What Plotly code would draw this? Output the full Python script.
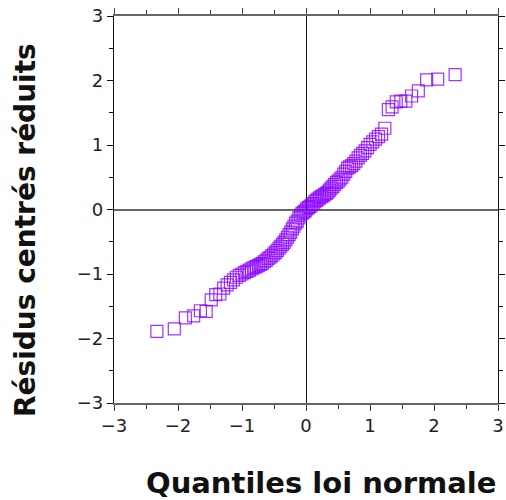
import plotly.graph_objects as go

# Theoretical normal quantiles (x) and standardized residuals (y)
quantiles = [
    -2.330, -2.058, -1.885, -1.755, -1.650, -1.560, -1.481, -1.410, -1.346, -1.287,
    -1.232, -1.181, -1.132, -1.087, -1.043, -1.001, -0.961, -0.922, -0.885, -0.849,
    -0.814, -0.780, -0.746, -0.714, -0.682, -0.651, -0.621, -0.591, -0.562, -0.533,
    -0.504, -0.476, -0.449, -0.421, -0.395, -0.368, -0.342, -0.316, -0.290, -0.264,
    -0.239, -0.213, -0.188, -0.162, -0.137, -0.112, -0.087, -0.062, -0.037, -0.012,
    0.012, 0.037, 0.062, 0.087, 0.112, 0.137, 0.162, 0.188, 0.213, 0.239,
    0.264, 0.290, 0.316, 0.342, 0.368, 0.395, 0.421, 0.449, 0.476, 0.504,
    0.533, 0.562, 0.591, 0.621, 0.651, 0.682, 0.714, 0.746, 0.780, 0.814,
    0.849, 0.885, 0.922, 0.961, 1.001, 1.043, 1.087, 1.132, 1.181, 1.232,
    1.287, 1.346, 1.410, 1.481, 1.560, 1.650, 1.755, 1.885, 2.058, 2.330,
]
residuals = [
    -1.89, -1.85, -1.68, -1.65, -1.57, -1.58, -1.40, -1.32, -1.31, -1.22,
    -1.17, -1.13, -1.09, -1.05, -1.02, -1.00, -0.98, -0.96, -0.94, -0.92,
    -0.90, -0.885, -0.87, -0.85, -0.835, -0.81, -0.79, -0.76, -0.74, -0.715,
    -0.69, -0.665, -0.635, -0.60, -0.57, -0.54, -0.51, -0.47, -0.43, -0.39,
    -0.35, -0.30, -0.26, -0.21, -0.18, -0.13, -0.09, -0.06, -0.04, -0.02,
    0.01, 0.03, 0.05, 0.07, 0.09, 0.12, 0.14, 0.16, 0.18, 0.20,
    0.21, 0.23, 0.25, 0.27, 0.30, 0.33, 0.36, 0.39, 0.42, 0.44,
    0.47, 0.50, 0.55, 0.59, 0.64, 0.66, 0.68, 0.71, 0.75, 0.80,
    0.84, 0.87, 0.91, 0.96, 1.01, 1.05, 1.09, 1.13, 1.17, 1.26,
    1.55, 1.59, 1.67, 1.68, 1.68, 1.76, 1.84, 2.01, 2.02, 2.09,
]
tick_vals = [-3, -2, -1, 0, 1, 2, 3]
tick_text = ["\u22123", "\u22122", "\u22121", "0", "1", "2", "3"]
x_title = "Quantiles loi normale"
y_title = "Résidus centrés réduits"

FONT = "DejaVu Sans"

fig = go.Figure()
fig.add_trace(go.Scatter(
    x=quantiles, y=residuals, mode="markers",
    marker=dict(symbol="square-open", size=12, color="rgb(136,0,255)", opacity=0.8,
                line=dict(width=1.2, color="rgb(136,0,255)")),
    showlegend=False, hoverinfo="skip",
))

axis_common = dict(
    range=[-3, 3], tickvals=tick_vals, ticktext=tick_text,
    ticks="outside", ticklen=6, tickwidth=1,
    showgrid=False, mirror="allticks", showline=True, automargin=False,
    ticklabeloverflow="allow",
    tickfont=dict(family=FONT, size=18, color="#222"),
    minor=dict(dtick=0.5, ticks="outside", ticklen=4, tickwidth=1, showgrid=False),
)

fig.update_xaxes(**axis_common, linecolor="#666", linewidth=1.5, tickcolor="#444",
                 zeroline=True, zerolinecolor="#111", zerolinewidth=1.2)
fig.update_xaxes(minor_tickcolor="#444")
fig.update_yaxes(**axis_common, linecolor="#111", linewidth=1.2, tickcolor="#111",
                 zeroline=True, zerolinecolor="#666", zerolinewidth=1.5)
fig.update_yaxes(minor_tickcolor="#111")

TOP, BOTTOM = 16, 97
plot_w = 506 - 114 - 8
plot_h = 500 - TOP - BOTTOM
axis_bottom_px = 500 - BOTTOM

fig.update_layout(
    width=506, height=500,
    margin=dict(l=114, r=8, t=TOP, b=BOTTOM, autoexpand=False),
    plot_bgcolor="white", paper_bgcolor="white",
    annotations=[
        dict(text=f"<b>{x_title}</b>", x=(321 - 114) / plot_w,
             y=(axis_bottom_px - 483) / plot_h,
             xref="paper", yref="paper", xanchor="center", yanchor="middle",
             showarrow=False, font=dict(family=FONT, size=29, color="#111")),
        dict(text=f"<b>{y_title}</b>", textangle=-90, x=(26 - 114) / plot_w,
             y=(axis_bottom_px - 230) / plot_h, xref="paper", yref="paper",
             xanchor="center", yanchor="middle",
             showarrow=False, font=dict(family=FONT, size=28, color="#111")),
    ],
)

# remove the default page margin so the 506x500 figure fills the window exactly
fig.write_html(
    "out.html",
    config={"displayModeBar": False},
    post_script="document.body.style.margin='0';document.body.style.overflow='hidden';",
)
